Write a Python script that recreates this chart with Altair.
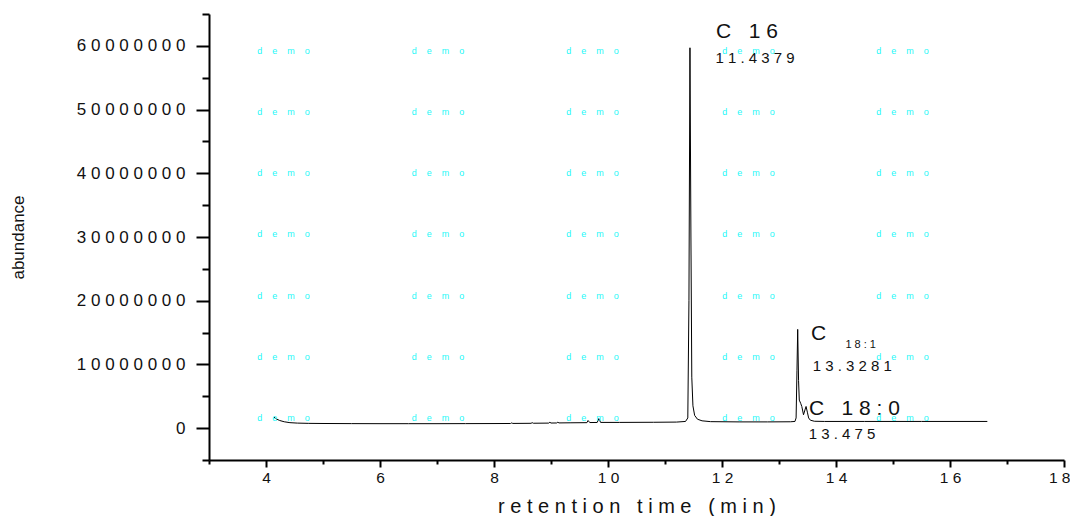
import altair as alt
import pandas as pd

NB = "\u00a0"
FONT = "Liberation Sans"

# chromatogram (retention time in min, abundance in counts)
rt = [4.14, 4.18, 4.24, 4.32, 4.42, 4.55, 4.75, 5.0, 5.5, 6.0, 6.5, 7.0, 7.5, 8.0,
      8.29, 8.31, 8.33, 8.65, 8.67, 8.69, 8.96, 8.98, 9.0, 9.10, 9.12, 9.14, 9.35,
      9.63, 9.65, 9.68, 9.81, 9.84, 9.87, 10.2, 10.8, 11.2, 11.36, 11.4, 11.42,
      11.4379, 11.455, 11.47, 11.49, 11.52, 11.57, 11.65, 11.8, 12.3, 12.8, 13.2,
      13.28, 13.30, 13.315, 13.3281, 13.343, 13.356, 13.38, 13.40, 13.43, 13.46,
      13.475, 13.5, 13.52, 13.55, 13.62, 13.8, 14.5, 15.5, 16.655]
abund = [1750000, 1450000, 1200000, 1000000, 860000, 790000, 750000, 730000, 710000,
         700000, 700000, 700000, 710000, 720000,
         730000, 820000, 740000, 760000, 860000, 770000, 790000, 920000, 800000,
         810000, 930000, 820000, 840000,
         860000, 1200000, 880000, 890000, 1500000, 900000, 900000, 920000, 950000,
         1050000, 1600000, 20000000,
         59700000, 30000000, 8000000, 3500000, 2000000, 1400000, 1150000, 1020000,
         980000, 980000, 1000000,
         1050000, 1600000, 9000000, 15500000, 7500000, 4400000, 3900000, 3400000,
         2100000, 3000000,
         3400000, 2400000, 1600000, 1250000, 1080000, 1050000, 1050000, 1050000, 1050000]

x_major = [4, 6, 8, 10, 12, 14, 16, 18]
x_minor = [3, 5, 7, 9, 11, 13, 15, 17]
y_major = [0, 10000000, 20000000, 30000000, 40000000, 50000000, 60000000]
y_minor = [-5000000, 5000000, 15000000, 25000000, 35000000, 45000000, 55000000, 65000000]

# peak annotations
ann_text = ["C 16", "11.4379", "C", "18:1", "13.3281", "C 18:0", "13.475"]
ann_x = [11.895, 11.885, 13.56, 14.165, 13.59, 13.525, 13.52]
ann_y = [61230000, 57310000, 13830000, 12580000, 8970000, 2060000, -1700000]
ann_size = [21, 15, 21, 11, 15, 21, 15]

# "demo" watermark grid
wm_x = [4.307, 7.018, 9.728, 12.465, 15.167]
wm_y = [59190000, 49620000, 40040000, 30470000, 20790000, 11170000, 1590000]
wm_label = "demo"

x_title = "retention time (min)"
y_title = "abundance"

df = pd.DataFrame({"rt": rt, "abund": abund})
ann_df = pd.DataFrame({"t": ann_text, "x": ann_x, "y": ann_y, "s": ann_size})
wm_df = pd.DataFrame([{"x": a, "y": b, "t": wm_label} for a in wm_x for b in wm_y])

xs = alt.Scale(domain=[3, 18], nice=False, zero=False)
ys = alt.Scale(domain=[-5000000, 65000000], nice=False, zero=False)

spaced_expr = "join(split(datum.label, ''), '" + NB + "')"
x_title_sp = NB.join(list(x_title.replace(" ", NB)))

line = alt.Chart(df).mark_line(color="black", strokeWidth=1).encode(
    x=alt.X("rt:Q", scale=xs, axis=alt.Axis(
        orient="bottom", values=x_major, format="d", grid=False,
        domainColor="black", domainWidth=2, tickColor="black", tickWidth=2, tickSize=7,
        labelFont=FONT, labelFontSize=15.5, labelColor="#111", labelPadding=3,
        labelExpr=spaced_expr, labelFlush=True, labelFlushOffset=6, labelOverlap=False,
        title=x_title_sp, titleFont=FONT, titleFontSize=20, titleFontWeight="normal",
        titleColor="#111", titleX=427.5, titleY=52, titleAlign="center",
        titleBaseline="alphabetic")),
    y=alt.Y("abund:Q", scale=ys, axis=alt.Axis(
        orient="left", values=y_major, format="d", grid=False,
        domainColor="black", domainWidth=2, tickColor="black", tickWidth=2, tickSize=13,
        labelFont=FONT, labelFontSize=17, labelColor="#111", labelPadding=11,
        labelExpr=spaced_expr, labelFlush=False, labelOverlap=False,
        title=y_title, titleFont=FONT, titleFontSize=17, titleFontWeight="normal",
        titleColor="#111", titleAngle=270, titleX=-191, titleY=223,
        titleAlign="center", titleBaseline="middle")),
)

minor = alt.Chart(wm_df).mark_point(opacity=0).encode(
    x=alt.X("x:Q", scale=xs, axis=alt.Axis(
        orient="bottom", values=x_minor, labels=False, domain=False, grid=False,
        tickColor="black", tickWidth=2, tickSize=4, title=None)),
    y=alt.Y("y:Q", scale=ys, axis=alt.Axis(
        orient="left", values=y_minor, labels=False, domain=False, grid=False,
        tickColor="black", tickWidth=2, tickSize=7, title=None)),
)

ann = alt.Chart(ann_df).transform_calculate(
    ts="join(split(datum.t, ''), '" + NB + "')"
).mark_text(align="left", baseline="alphabetic", font=FONT, color="#111").encode(
    x=alt.X("x:Q", scale=xs, axis=None),
    y=alt.Y("y:Q", scale=ys, axis=None),
    text=alt.Text("ts:N"),
    size=alt.Size("s:Q", scale=None),
)

wm = alt.Chart(wm_df).transform_calculate(
    ts="join(split(datum.t, ''), '" + NB * 4 + "')"
).mark_text(align="center", baseline="middle", font=FONT, fontSize=9,
            color="#1EF8F8").encode(
    x=alt.X("x:Q", scale=xs, axis=None),
    y=alt.Y("y:Q", scale=ys, axis=None),
    text=alt.Text("ts:N"),
)

chart = alt.layer(line, minor, ann, wm).resolve_axis(
    x="independent", y="independent"
).properties(
    width=855, height=446,
    padding={"left": 201, "top": 6, "right": 6, "bottom": 56},
    autosize=alt.AutoSizeParams(type="none"),
).configure_view(stroke=None)

chart.save("out.html", embed_options={"renderer": "svg", "actions": False})
